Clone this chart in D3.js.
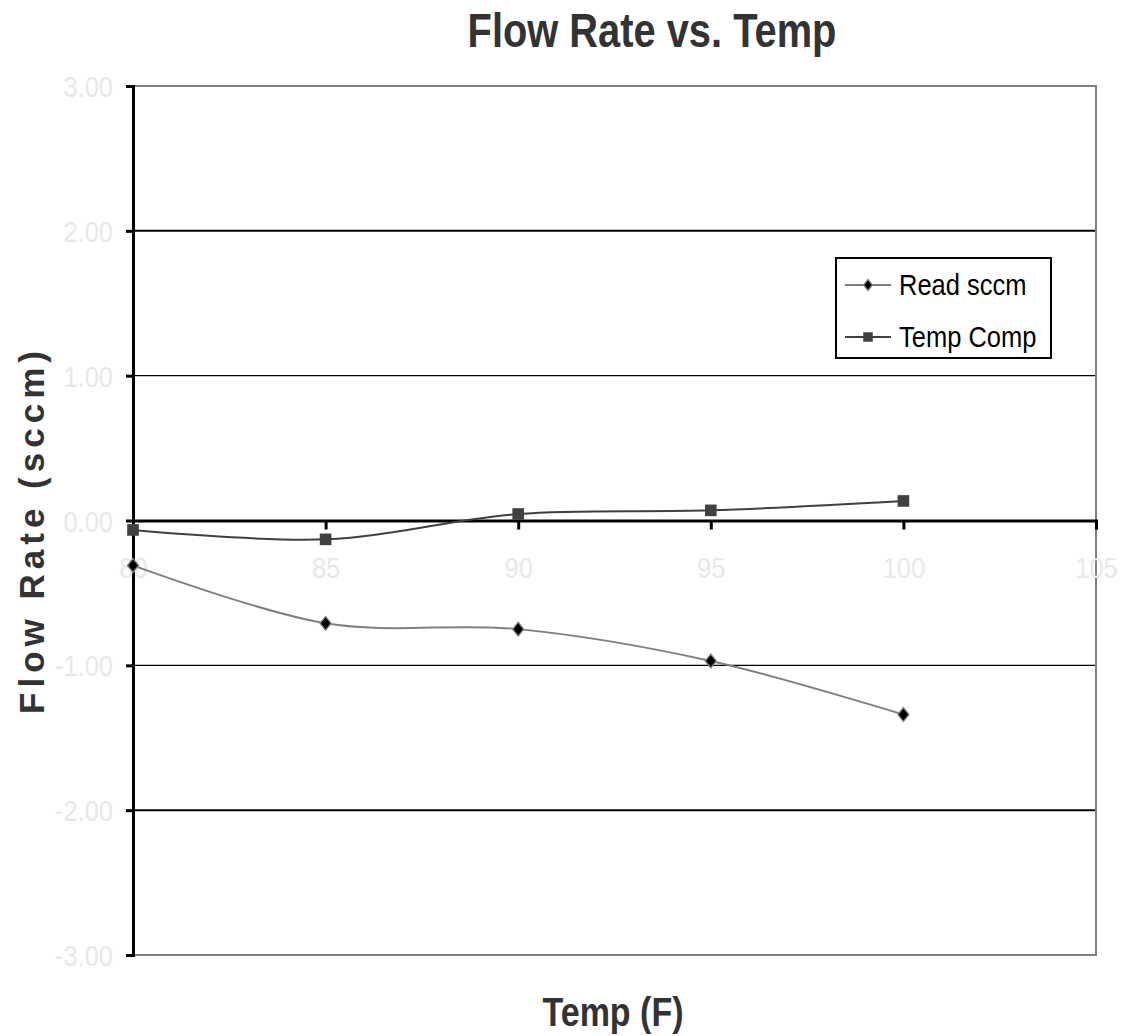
<!DOCTYPE html>
<html>
<head>
<meta charset="utf-8">
<script src="https://cdn.jsdelivr.net/npm/d3@7"></script>
<style>
  body { margin: 0; background: #fff; }
  svg { display: block; }
</style>
</head>
<body>
<svg width="1132" height="1036"></svg>
<script>
const temps = [80, 85, 90, 95, 100];
const readSccm = [-0.31, -0.71, -0.75, -0.97, -1.34];
const tempComp = [-0.065, -0.13, 0.045, 0.07, 0.135];
const xTicks = [80, 85, 90, 95, 100, 105];
const yTicks = [-3, -2, -1, 0, 1, 2, 3];
const seriesNames = ["Read sccm", "Temp Comp"];

// no narrow font installed, so squeeze Liberation Sans horizontally
const font = "'Liberation Sans', Arial, sans-serif";
const squeeze = 0.85;
const svg = d3.select("svg");

const x = d3.scaleLinear().domain([80, 105]).range([133, 1096]);
const y = d3.scaleLinear().domain([-3, 3]).range([955, 86]);
const fmt = d3.formatLocale({decimal: ".", thousands: ",", grouping: [3], currency: ["", ""], minus: "-"}).format(".2f");

// gridlines
svg.append("g")
    .selectAll("line")
    .data(yTicks.filter(d => d !== 0 && Math.abs(d) !== 3))
    .join("line")
    .attr("x1", x(80)).attr("x2", x(105))
    .attr("y1", d => y(d)).attr("y2", d => y(d))
    .attr("stroke", "#000")
    .attr("stroke-width", d => Math.abs(d) === 2 ? 2 : 1.2);

// plot border
svg.append("rect")
    .attr("x", x(80)).attr("y", y(3))
    .attr("width", x(105) - x(80)).attr("height", y(-3) - y(3))
    .attr("fill", "none").attr("stroke", "#808080").attr("stroke-width", 2);

// y axis
const yAxis = svg.append("g")
    .attr("transform", `translate(${x(80)},0)`)
    .call(d3.axisLeft(y).tickValues(yTicks).tickFormat(fmt).tickSize(7));
yAxis.select(".domain").attr("stroke", "#000").attr("stroke-width", 3);
yAxis.selectAll(".tick line").attr("stroke", "#000").attr("stroke-width", 3);
yAxis.selectAll("text")
    .attr("x", -20 / squeeze).attr("dy", "0.35em")
    .attr("transform", `scale(${squeeze},1)`)
    .attr("fill", "#e8e8e8").attr("font-size", 30).attr("font-family", font);

// x axis on zero line
const xAxis = svg.append("g")
    .attr("transform", `translate(0,${y(0)})`)
    .call(d3.axisBottom(x).tickValues(xTicks).tickFormat(d3.format("d")).tickSize(9));
xAxis.select(".domain").attr("stroke", "#000").attr("stroke-width", 3);
xAxis.selectAll(".tick line").attr("stroke", "#000").attr("stroke-width", 3);
xAxis.selectAll("text")
    .attr("y", 58).attr("dy", 0)
    .attr("transform", `scale(${squeeze},1)`)
    .attr("fill", "#e8e8e8").attr("font-size", 30).attr("font-family", font);

// lines
const line = d3.line()
    .x((d, i) => x(temps[i]))
    .y(d => y(d))
    .curve(d3.curveCatmullRom.alpha(0));

svg.append("path").datum(readSccm)
    .attr("d", line).attr("fill", "none")
    .attr("stroke", "#808080").attr("stroke-width", 2);
svg.append("path").datum(tempComp)
    .attr("d", line).attr("fill", "none")
    .attr("stroke", "#404040").attr("stroke-width", 2);

const diamond = d3.symbol().type(d3.symbolSquare).size(95);
const square = d3.symbol().type(d3.symbolSquare).size(135);

svg.append("g").selectAll("path")
    .data(readSccm)
    .join("path")
    .attr("transform", (d, i) => `translate(${x(temps[i])},${y(d)}) scale(0.8,1) rotate(45)`)
    .attr("d", diamond)
    .attr("fill", "#000").attr("stroke", "#808080").attr("stroke-width", 1.5);

svg.append("g").selectAll("path")
    .data(tempComp)
    .join("path")
    .attr("transform", (d, i) => `translate(${x(temps[i])},${y(d)})`)
    .attr("d", square)
    .attr("fill", "#404040");

// legend
const legend = svg.append("g").attr("transform", "translate(836,258)");
legend.append("rect")
    .attr("width", 215).attr("height", 100)
    .attr("fill", "#fff").attr("stroke", "#000").attr("stroke-width", 2);
seriesNames.forEach((name, i) => {
  const ly = 27 + i * 52;
  legend.append("line")
      .attr("x1", 9).attr("x2", 55).attr("y1", ly).attr("y2", ly)
      .attr("stroke", i === 0 ? "#808080" : "#404040").attr("stroke-width", 2);
  legend.append("path")
      .attr("transform", `translate(32,${ly})` + (i === 0 ? " scale(0.8,1) rotate(45)" : ""))
      .attr("d", i === 0 ? d3.symbol().type(d3.symbolSquare).size(60)() : d3.symbol().type(d3.symbolSquare).size(90)())
      .attr("fill", i === 0 ? "#000" : "#404040")
      .attr("stroke", i === 0 ? "#808080" : "none").attr("stroke-width", 1.5);
  legend.append("text")
      .attr("transform", `translate(63,${ly + 10}) scale(${squeeze},1)`)
      .attr("font-size", 30).attr("font-family", font).attr("fill", "#000")
      .text(name);
});

// titles
svg.append("text")
    .attr("transform", `translate(652,47) scale(0.83,1)`)
    .attr("text-anchor", "middle")
    .attr("font-size", 48).attr("font-weight", "bold").attr("font-family", font)
    .attr("fill", "#333")
    .text("Flow Rate vs. Temp");

svg.append("text")
    .attr("transform", `translate(613,1026) scale(0.83,1)`)
    .attr("text-anchor", "middle")
    .attr("font-size", 41).attr("font-weight", "bold").attr("font-family", font)
    .attr("fill", "#333")
    .text("Temp (F)");

svg.append("text")
    .attr("transform", "translate(44,530) rotate(-90)")
    .attr("text-anchor", "middle")
    .attr("font-size", 35).attr("font-weight", "bold").attr("font-family", font)
    .attr("letter-spacing", 5)
    .attr("fill", "#333")
    .text("Flow Rate (sccm)");
</script>
</body>
</html>
